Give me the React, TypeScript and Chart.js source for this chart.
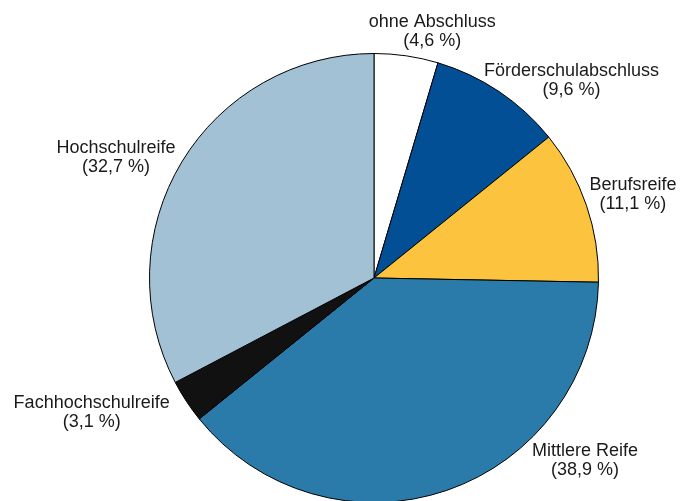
import React, { useEffect, useRef } from "react";
import { Chart, registerables } from "chart.js";

Chart.register(...registerables);

const categories = [
  "ohne Abschluss",
  "Förderschulabschluss",
  "Berufsreife",
  "Mittlere Reife",
  "Fachhochschulreife",
  "Hochschulreife",
];
const shares = [4.6, 9.6, 11.1, 38.9, 3.1, 32.7];
const sliceColors = ["#ffffff", "#034f96", "#fbc33e", "#2b7baa", "#111111", "#a3c1d5"];
// label nudges (px) from the default outside anchor point
const labelNudgeX = [22.4, 58.6, 22.9, 130.2, -73.8, -44.5];
const labelNudgeY = [-4.4, 5.2, -7.2, -58.1, -7.3, 4.3];

const fmt = (v: number) => "(" + v.toFixed(1).replace(".", ",") + " %)";

const labelPlugin = {
  id: "outsideLabels",
  afterDatasetsDraw(chart: any) {
    const ctx = chart.ctx;
    const meta = chart.getDatasetMeta(0);
    ctx.save();
    ctx.font = '18px "Liberation Sans", Arial, sans-serif';
    ctx.fillStyle = "#1a1a1a";
    ctx.textAlign = "center";
    ctx.textBaseline = "alphabetic";
    meta.data.forEach((arc: any, i: number) => {
      const p = arc.getProps(["x", "y", "startAngle", "endAngle", "outerRadius"], true);
      const mid = (p.startAngle + p.endAngle) / 2;
      const r = p.outerRadius + 25;
      const x = p.x + Math.cos(mid) * r + labelNudgeX[i];
      const y = p.y + Math.sin(mid) * r + labelNudgeY[i];
      ctx.fillText(categories[i], x, y);
      ctx.fillText(fmt(shares[i]), x, y + 19);
    });
    ctx.restore();
  },
};

export default function App() {
  const ref = useRef<HTMLCanvasElement | null>(null);
  useEffect(() => {
    if (!ref.current) return;
    const chart = new Chart(ref.current, {
      type: "pie",
      data: {
        labels: categories,
        datasets: [
          {
            data: shares,
            backgroundColor: sliceColors,
            borderColor: "#000000",
            borderWidth: 1,
          },
        ],
      },
      options: {
        responsive: false,
        animation: false,
        layout: { padding: { left: 149, right: 81, top: 53, bottom: 37 } },
        plugins: {
          legend: { display: false },
          tooltip: { enabled: false },
        },
      },
      plugins: [labelPlugin],
    });
    return () => chart.destroy();
  }, []);
  return (
    <div
      style={{
        position: "fixed",
        left: 0,
        top: 0,
        width: 680,
        height: 501,
        overflow: "hidden",
        background: "#ffffff",
      }}
    >
      <canvas ref={ref} width={680} height={540} style={{ display: "block" }} />
    </div>
  );
}
